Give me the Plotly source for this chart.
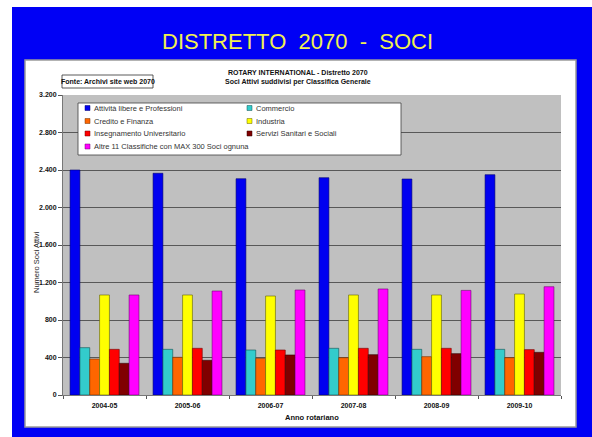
import plotly.graph_objects as go

# ---- data ----
years = ["2004-05", "2005-06", "2006-07", "2007-08", "2008-09", "2009-10"]
series_names = [
    "Attività libere e Professioni",
    "Commercio",
    "Credito e Finanza",
    "Industria",
    "Insegnamento Universitario",
    "Servizi Sanitari e Sociali",
    "Altre 11 Classifiche con MAX 300 Soci ognuna",
]
attivita = [2400, 2365, 2307, 2318, 2304, 2350]
commercio = [505, 487, 480, 498, 487, 487]
credito = [384, 402, 391, 398, 409, 398]
industria = [1067, 1067, 1056, 1067, 1067, 1077]
insegnamento = [487, 498, 480, 498, 498, 484]
servizi = [338, 370, 427, 430, 441, 455]
altre = [1067, 1109, 1120, 1131, 1116, 1155]
series_values = [attivita, commercio, credito, industria, insegnamento, servizi, altre]

colors = ["#0000F0", "#33CCCC", "#FF6600", "#FFFF00", "#FF0000", "#800000", "#FF00FF"]
outline = ["#000070", "#105050", "#703000", "#606000", "#700000", "#300000", "#700070"]

y_tickvals = [0, 400, 800, 1200, 1600, 2000, 2400, 2800, 3200]
y_ticktext = ["0", "400", "800", "1.200", "1.600", "2.000", "2.400", "2.800", "3.200"]

main_title = "DISTRETTO  2070  -  SOCI"
chart_title_1 = "ROTARY INTERNATIONAL - Distretto 2070"
chart_title_2 = "Soci Attivi suddivisi per Classifica Generale"
source_text = "Fonte: Archivi site web 2070"
y_title = "Numero Soci Attivi"
x_title = "Anno rotariano"

# ---- layout geometry (pixels) ----
W, H = 592, 437
L, R, T, B = 63, 561, 95, 395
BLUE = "#0000F5"


def px_x(px):
    return (px - L) / (R - L)


def px_y(py):
    return (B - py) / (B - T)


narrow = "Liberation Sans Narrow, Arial Narrow, Liberation Sans, Arial, sans-serif"
sans = "Liberation Sans, Arial, sans-serif"

fig = go.Figure()
for name, vals, c, oc in zip(series_names, series_values, colors, outline):
    fig.add_trace(go.Bar(
        x=years, y=vals, name=name,
        marker=dict(color=c, line=dict(color=oc, width=0.6)),
        showlegend=False,
    ))

shapes = [
    # white strips left and top of the slide
    dict(type="rect", xref="paper", yref="paper", layer="below",
         x0=px_x(-2), x1=px_x(12), y0=px_y(-2), y1=px_y(H + 2),
         fillcolor="white", line=dict(width=0)),
    dict(type="rect", xref="paper", yref="paper", layer="below",
         x0=px_x(-2), x1=px_x(W + 2), y0=px_y(-2), y1=px_y(7),
         fillcolor="white", line=dict(width=0)),
    # white chart panel
    dict(type="rect", xref="paper", yref="paper", layer="below",
         x0=px_x(25), x1=px_x(576), y0=px_y(60), y1=px_y(427),
         fillcolor="white", line=dict(color="#9A9A9A", width=1.5)),
    # grey plot area
    dict(type="rect", xref="paper", yref="paper", layer="below",
         x0=0, x1=1, y0=0, y1=1,
         fillcolor="#C0C0C0", line=dict(width=0)),
    # source box
    dict(type="rect", xref="paper", yref="paper",
         x0=px_x(62), x1=px_x(153), y0=px_y(75), y1=px_y(88),
         fillcolor="white", line=dict(color="#303030", width=0.8)),
    # legend box
    dict(type="rect", xref="paper", yref="paper",
         x0=px_x(78), x1=px_x(401), y0=px_y(103), y1=px_y(155),
         fillcolor="white", line=dict(color="#404040", width=0.8)),
]

annotations = [
    dict(text=main_title, xref="paper", yref="paper", x=px_x(297), y=px_y(41),
         showarrow=False, xanchor="center", yanchor="middle",
         font=dict(family=sans, size=22, color="#F0F050")),
    dict(text="<b>" + chart_title_1 + "</b>", xref="paper", yref="paper",
         x=px_x(298), y=px_y(72), showarrow=False, xanchor="center", yanchor="middle",
         font=dict(family=narrow, size=7, color="#111")),
    dict(text="<b>" + chart_title_2 + "</b>", xref="paper", yref="paper",
         x=px_x(298), y=px_y(82), showarrow=False, xanchor="center", yanchor="middle",
         font=dict(family=narrow, size=7, color="#111")),
    dict(text="<b>" + source_text + "</b>", xref="paper", yref="paper",
         x=px_x(107.5), y=px_y(81.5), showarrow=False, xanchor="center", yanchor="middle",
         font=dict(family=narrow, size=7, color="#111")),
    dict(text=y_title, xref="paper", yref="paper", x=px_x(36), y=px_y(262),
         showarrow=False, textangle=-90, xanchor="center", yanchor="middle",
         font=dict(family=sans, size=7.5, color="#222")),
    dict(text="<b>" + x_title + "</b>", xref="paper", yref="paper", x=px_x(312), y=px_y(417),
         showarrow=False, xanchor="center", yanchor="middle",
         font=dict(family=narrow, size=7.5, color="#111")),
]

# legend (manual, two columns)
col_x = [85, 247]
row_y = [108, 121, 133.5, 146.5]
for i, (name, c, oc) in enumerate(zip(series_names, colors, outline)):
    cx = col_x[i % 2]
    ry = row_y[i // 2]
    shapes.append(dict(type="rect", xref="paper", yref="paper",
                       x0=px_x(cx), x1=px_x(cx + 5), y0=px_y(ry - 2.5), y1=px_y(ry + 2.5),
                       fillcolor=c, line=dict(color=oc, width=0.5)))
    annotations.append(dict(text=name, xref="paper", yref="paper",
                            x=px_x(cx + 7), y=px_y(ry), showarrow=False,
                            xanchor="left", yanchor="middle",
                            font=dict(family=sans, size=7.5, color="#333")))

fig.update_layout(
    width=W, height=H,
    margin=dict(l=L, r=W - R, t=T, b=H - B, pad=0),
    paper_bgcolor=BLUE,
    plot_bgcolor="rgba(0,0,0,0)",
    barmode="group", bargap=0.17, bargroupgap=0,
    shapes=shapes, annotations=annotations,
    showlegend=False,
    xaxis=dict(
        type="category",
        showgrid=False, ticks="outside", tickson="boundaries", ticklen=3,
        tickcolor="#555", showline=True, linecolor="#777", linewidth=1,
        tickfont=dict(family=narrow, size=7, color="#111", weight="bold"),
        ticklabelstandoff=4,
    ),
    yaxis=dict(
        range=[0, 3200], tickvals=y_tickvals, ticktext=y_ticktext,
        showgrid=True, gridcolor="#585858", gridwidth=1,
        ticks="outside", ticklen=4, tickcolor="#555",
        showline=True, linecolor="#777", linewidth=1, zeroline=False,
        tickfont=dict(family=narrow, size=7, color="#111", weight="bold"),
    ),
)

fig.write_html(
    "out.html",
    config={"displayModeBar": False, "staticPlot": True},
    post_script=(
        "document.body.style.margin='0';"
        "document.body.style.overflow='hidden';"
        "document.body.style.background='" + BLUE + "';"
    ),
)
